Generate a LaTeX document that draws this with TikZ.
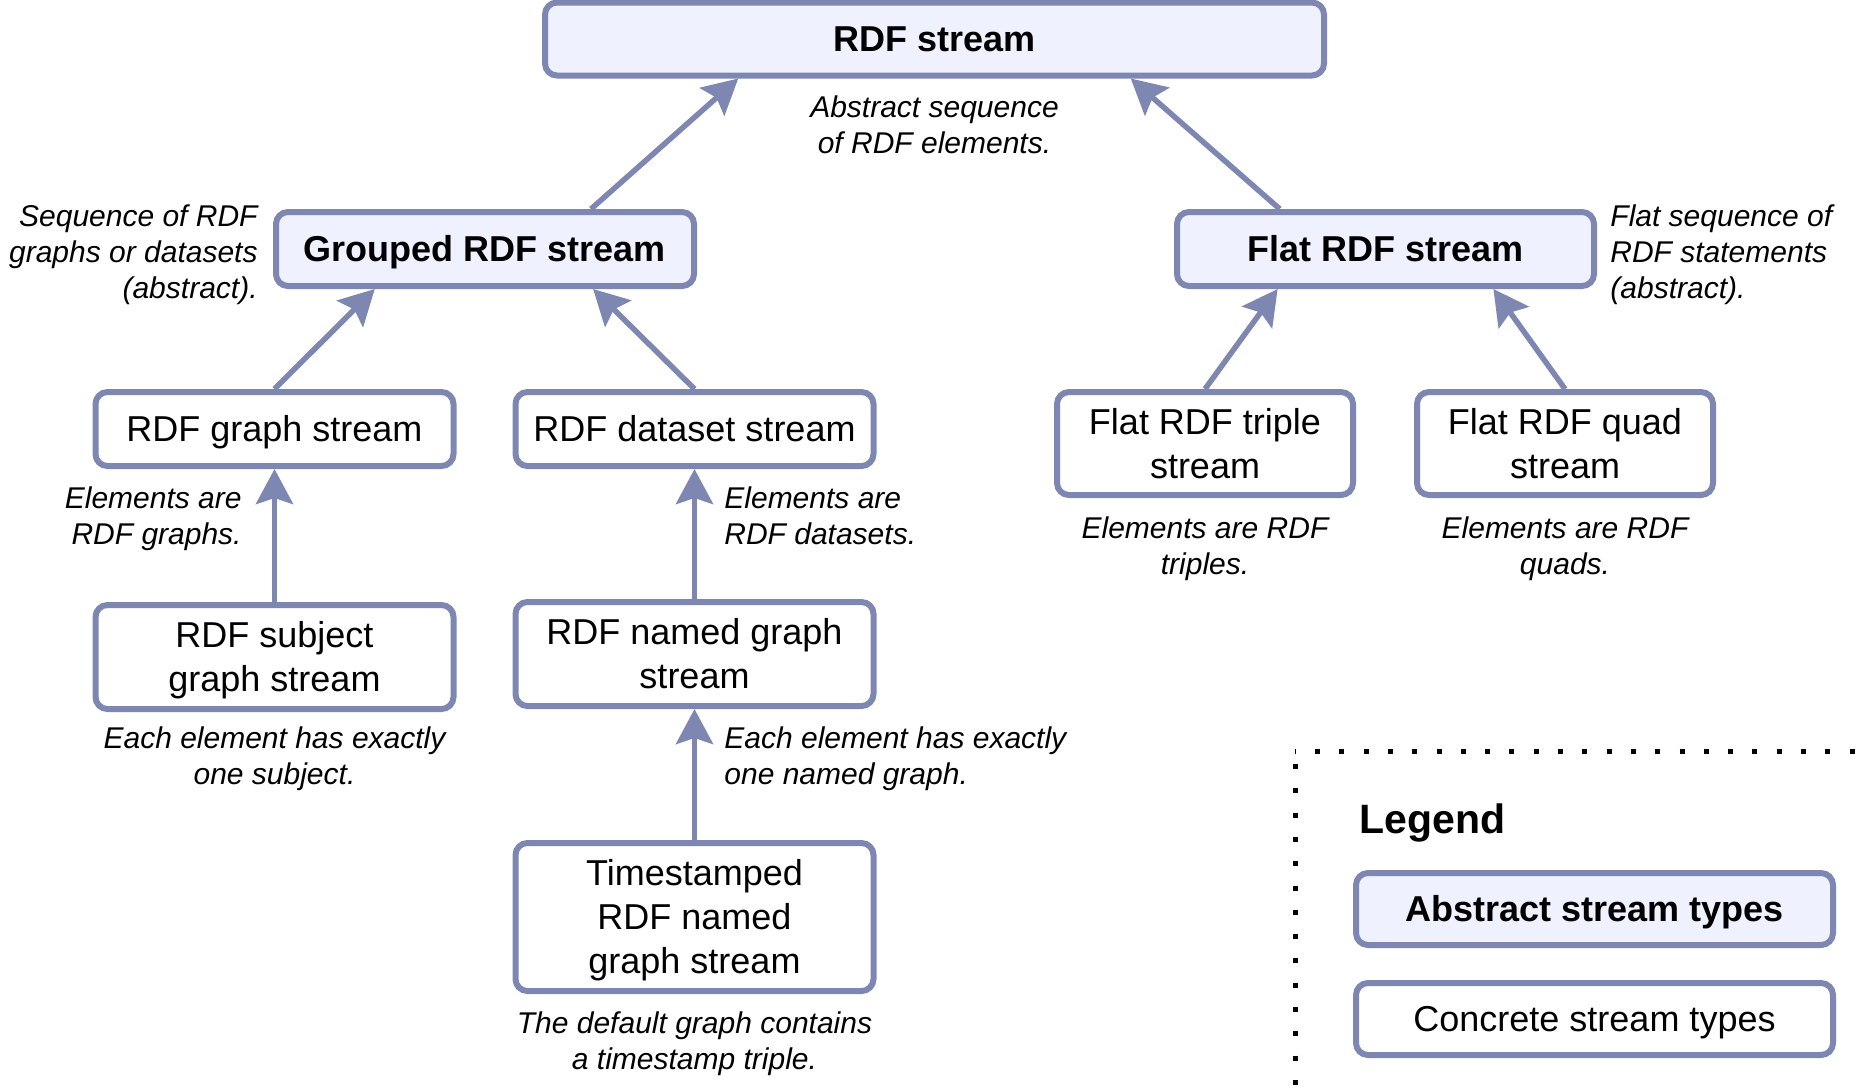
\documentclass[tikz,border=0pt]{standalone}
\usepackage{fontspec}
\setmainfont{Liberation Sans}
\usetikzlibrary{arrows.meta,calc}
\definecolor{edgeblue}{HTML}{7E87B2}
\definecolor{absfill}{HTML}{EFF1FE}
\begin{document}
\begin{tikzpicture}[x=0.5pt,y=-0.5pt,
  box/.style={draw=edgeblue, line width=3pt, rounded corners=6pt, fill=white, align=center, inner sep=0pt, font=\fontsize{18pt}{22pt}\selectfont, text height=12.9pt, text depth=0pt},
  absbox/.style={box, fill=absfill, font=\fontsize{18pt}{22pt}\selectfont\bfseries},
  twolines/.style={text height=34.9pt},
  threelines/.style={text height=56.9pt},
  note/.style={font=\fontsize{15pt}{18pt}\selectfont\itshape, inner sep=0pt, text height=28.75pt, text depth=0pt},
  notethree/.style={note, text height=46.75pt},
  arr/.style={draw=edgeblue, line width=2.75pt, -{Stealth[length=17.5pt,width=18.5pt,inset=3pt]}},
  legline/.style={line width=2.5pt, black}
]
\useasboundingbox (0,0) rectangle (1857,1089);

% abstract boxes
\node[absbox, minimum width=389.5pt, minimum height=36.5pt] (rdf) at (934.5,39) {RDF stream};
\node[absbox, minimum width=209pt, minimum height=37pt] (grp) at (485,249) {Grouped RDF stream};
\node[absbox, minimum width=208.5pt, minimum height=37pt] (flat) at (1385.5,249) {Flat RDF stream};

% concrete boxes
\node[box, minimum width=179pt, minimum height=37pt] (gs) at (274.5,429) {RDF graph stream};
\node[box, minimum width=179pt, minimum height=37pt] (ds) at (694.5,429) {RDF dataset stream};
\node[box, twolines, minimum width=148pt, minimum height=51.5pt] (ts) at (1205,443.5) {Flat RDF triple\\stream};
\node[box, twolines, minimum width=148pt, minimum height=51.5pt] (qs) at (1565,443.5) {Flat RDF quad\\stream};
\node[box, twolines, minimum width=179pt, minimum height=52pt] (sg) at (274.5,657) {RDF subject\\graph stream};
\node[box, twolines, minimum width=179pt, minimum height=52pt] (ng) at (694.5,654) {RDF named graph\\stream};
\node[box, threelines, minimum width=179pt, minimum height=74pt] (tng) at (694.5,917) {Timestamped\\RDF named\\graph stream};

% arrows
\draw[arr] ($(grp.north west)!0.75!(grp.north east)$) -- ($(rdf.south west)!0.25!(rdf.south east)$);
\draw[arr] ($(flat.north west)!0.25!(flat.north east)$) -- ($(rdf.south west)!0.75!(rdf.south east)$);
\draw[arr] (gs.north) -- ($(grp.south west)!0.24!(grp.south east)$);
\draw[arr] (ds.north) -- ($(grp.south west)!0.755!(grp.south east)$);
\draw[arr] (ts.north) -- ($(flat.south west)!0.245!(flat.south east)$);
\draw[arr] (qs.north) -- ($(flat.south west)!0.755!(flat.south east)$);
\draw[arr] (sg.north) -- (gs.south);
\draw[arr] (ng.north) -- (ds.south);
\draw[arr] (tng.north) -- (ng.south);

% notes
\node[note, align=center] (n1) at (934.5,124.5) {Abstract sequence\\of RDF elements.};
\node[notethree, align=right, anchor=east] (n2) at (258,251.5) {Sequence of RDF\\graphs or datasets\\(abstract).};
\node[notethree, align=left, anchor=west] (n3) at (1610,252) {Flat sequence of\\RDF statements\\(abstract).};
\node[note, align=right, anchor=east] (n4) at (242,516) {Elements are\\RDF graphs.};
\node[note, align=left, anchor=west] (n5) at (724,516) {Elements are\\RDF datasets.};
\node[note, align=center] (n6) at (1205,546) {Elements are RDF\\triples.};
\node[note, align=center] (n7) at (1565,546) {Elements are RDF\\quads.};
\node[note, align=center] (n8) at (274.5,756) {Each element has exactly\\one subject.};
\node[note, align=left, anchor=west] (n9) at (724,756) {Each element has exactly\\one named graph.};
\node[note, align=center] (n10) at (694.5,1041) {The default graph contains\\a timestamp triple.};

% legend
\coordinate (lc) at (1295,751.5);
\coordinate (lr) at (1857,751.5);
\coordinate (lb) at (1295,1089);
\draw[legline, dash pattern=on 2.5pt off 9.65pt, dash phase=2.15pt] (lc) -- (lr);
\draw[legline, dash pattern=on 2.5pt off 9.65pt, dash phase=5.9pt] (lc) -- (lb);
\node[anchor=west, inner sep=0pt, font=\fontsize{20.5pt}{24pt}\selectfont\bfseries, text height=14.7pt, text depth=0pt] (leg) at (1359,819) {Legend};
\node[absbox, minimum width=238.5pt, minimum height=36pt] (la) at (1594.5,909) {Abstract stream types};
\node[box, minimum width=238.5pt, minimum height=36pt] (lcn) at (1594.5,1019) {Concrete stream types};
\end{tikzpicture}
\end{document}
